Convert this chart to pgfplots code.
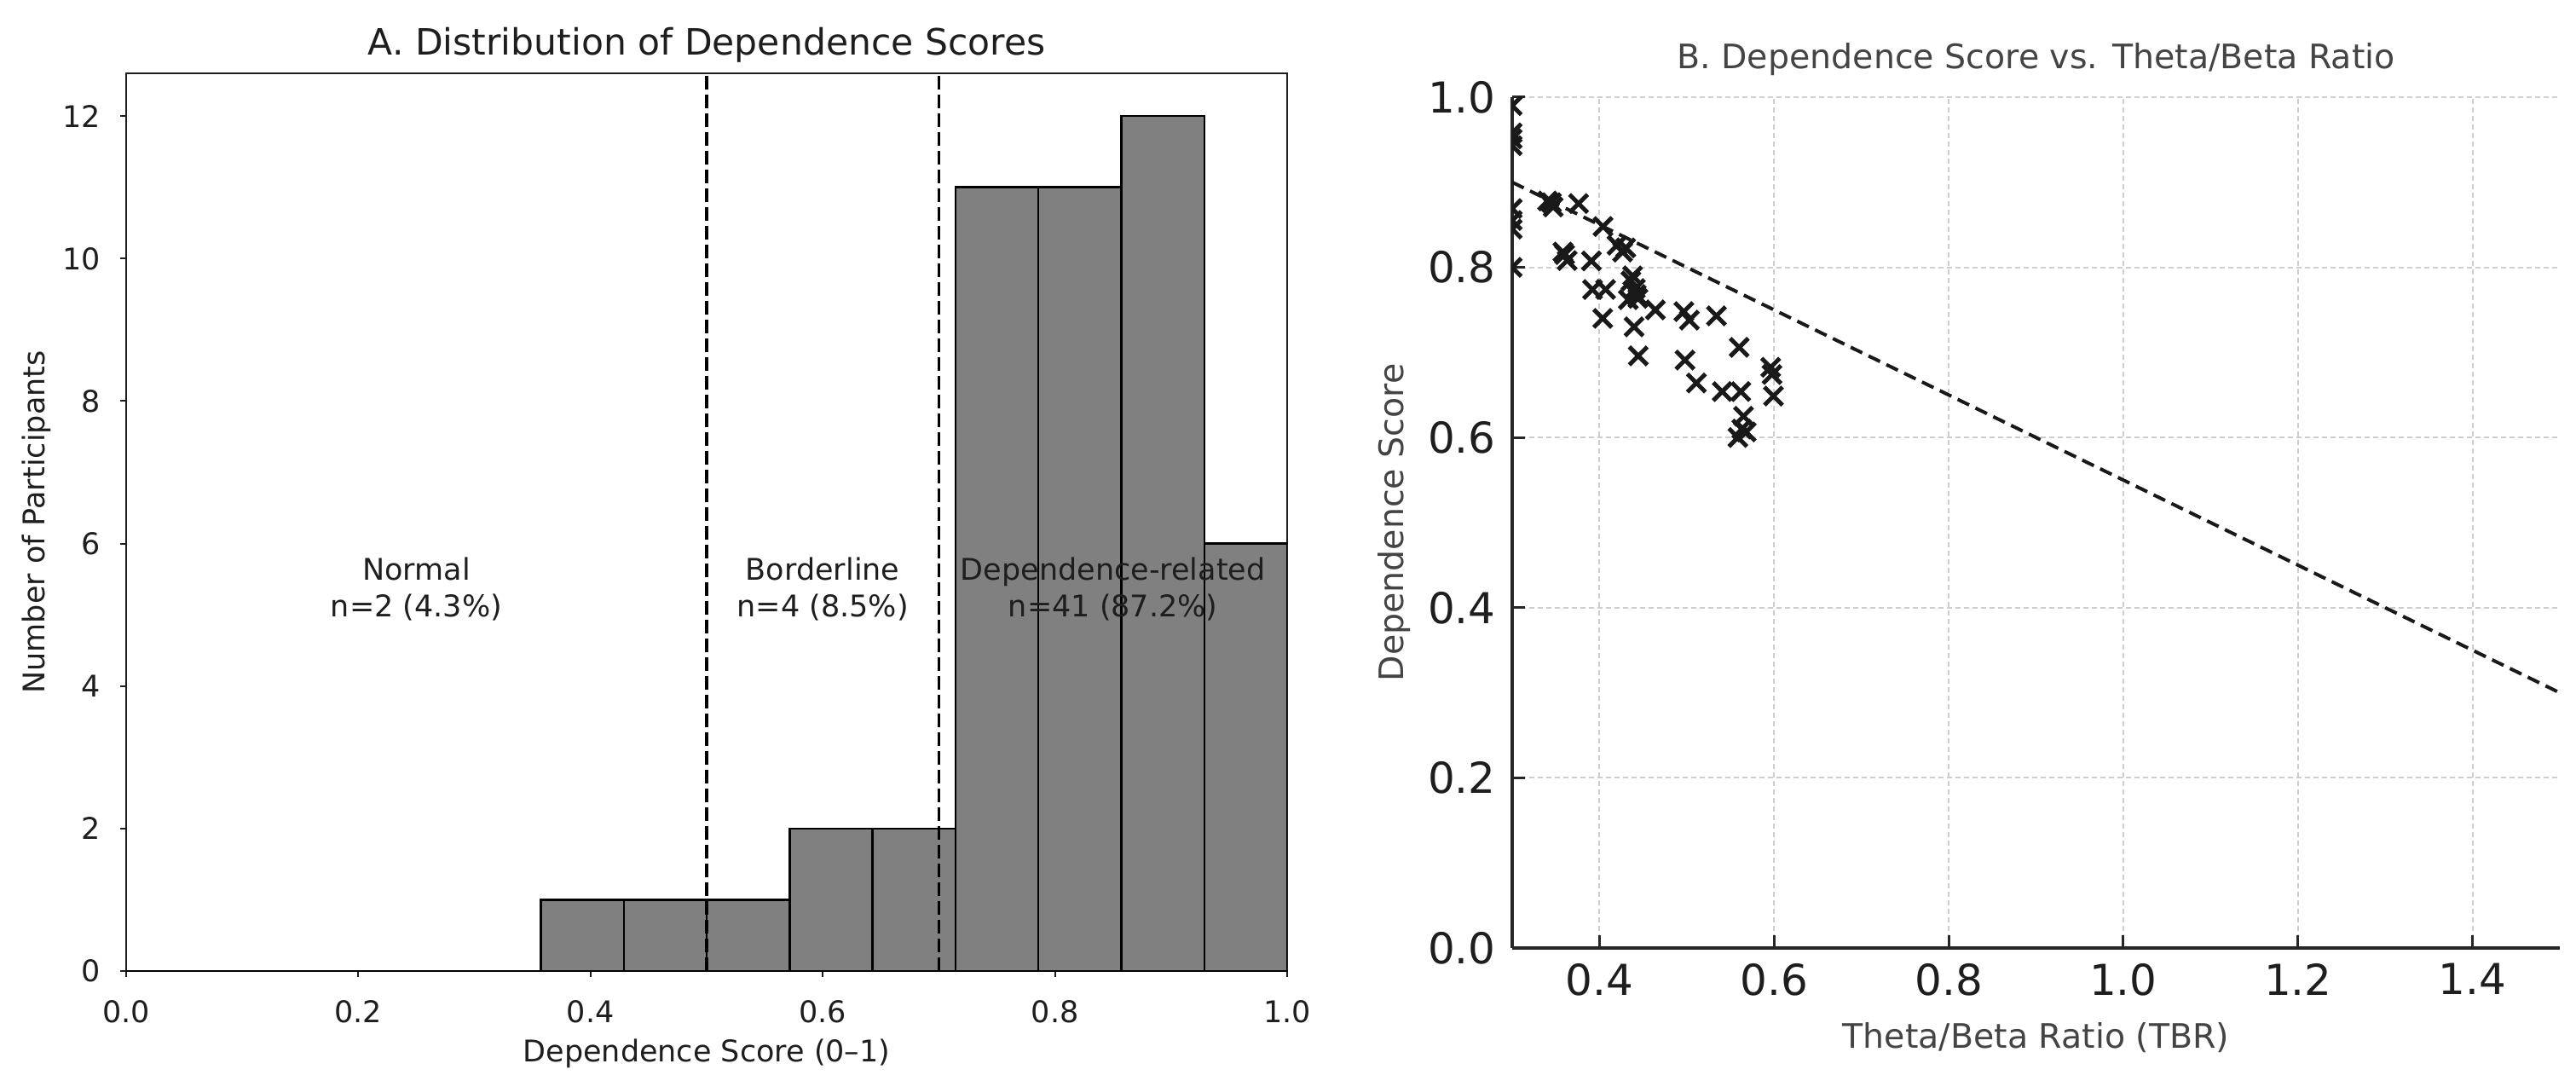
\documentclass[border=0pt]{standalone}
\usepackage{fontspec}
\setmainfont{DejaVu Sans}
\usepackage{pgfplots}
\pgfplotsset{compat=1.18}
\definecolor{bargray}{RGB}{128,128,128}
\definecolor{gridgray}{RGB}{205,205,205}
\definecolor{txtgray}{RGB}{68,68,68}
\definecolor{txtdark}{RGB}{30,30,30}

\pgfplotstableread{
x y
0.0000 0
0.0714 0
0.1429 0
0.2143 0
0.2857 0
0.3571 1
0.4286 1
0.5000 1
0.5714 2
0.6429 2
0.7143 11
0.7857 11
0.8571 12
0.9286 6
1.0000 6
}\histdata

\pgfplotstableread{
x y
0.300 0.990
0.300 0.958
0.300 0.951
0.300 0.943
0.300 0.869
0.300 0.855
0.300 0.845
0.300 0.800
0.3405 0.878
0.347 0.871
0.345 0.876
0.376 0.875
0.404 0.848
0.420 0.826
0.4265 0.818
0.430 0.823
0.358 0.818
0.360 0.815
0.363 0.808
0.3907 0.8075
0.392 0.774
0.407 0.774
0.436 0.784
0.438 0.790
0.441 0.775
0.442 0.768
0.433 0.762
0.444 0.7635
0.4037 0.740
0.464 0.750
0.4396 0.730
0.4966 0.748
0.503 0.738
0.534 0.743
0.4444 0.696
0.498 0.691
0.560 0.706
0.511 0.664
0.5406 0.654
0.5618 0.654
0.596 0.6825
0.5976 0.674
0.5993 0.6487
0.565 0.625
0.568 0.6065
0.5585 0.600
0.563 0.610
}\scatterdata

\begin{document}
\begin{tikzpicture}
% ---------------- Panel A ----------------
\begin{axis}[
  at={(59.2pt,51.2pt)}, anchor=south west,
  scale only axis, width=544.8pt, height=421.2pt,
  xmin=0, xmax=1, ymin=0, ymax=12.6,
  xtick={0,0.2,0.4,0.6,0.8,1},
  xticklabels={0.0,0.2,0.4,0.6,0.8,1.0},
  ytick={0,2,4,6,8,10,12},
  tick align=outside, tick pos=left,
  major tick length=2.8pt,
  every tick/.style={txtdark, line width=0.8pt},
  axis line style={txtdark, line width=0.8pt},
  /pgf/number format/assume math mode=true,
  tick label style={font=\fontsize{14}{17}\selectfont, text=txtdark},
  xticklabel style={anchor=north, inner sep=0pt, yshift=-11pt},
  yticklabel style={anchor=east, inner sep=0pt, xshift=-9pt},
  title={A. Distribution of Dependence Scores},
  every axis title/.style={at={(axis description cs:0.5,1.0201)}, anchor=base, font=\fontsize{17}{20}\selectfont, text=txtdark},
  xlabel={Dependence Score (0–1)},
  xlabel style={at={(axis description cs:0.5,-0.1016)}, anchor=base, font=\fontsize{14}{17}\selectfont, text=txtdark},
  ylabel={Number of Participants},
  ylabel style={at={(axis description cs:-0.0701,0.5)}, anchor=base, font=\fontsize{14}{17}\selectfont, text=txtdark},
]
\addplot[ybar interval, fill=bargray, draw=black, line width=1pt] table[x=x,y=y] {\histdata};
\addplot[black, line width=1.4pt, dash pattern=on 6.4pt off 2.4pt] coordinates {(0.5,0) (0.5,12.6)};
\addplot[black, line width=1.4pt, dash pattern=on 6.4pt off 2.4pt] coordinates {(0.7,0) (0.7,12.6)};
\node[anchor=base, font=\fontsize{14}{17}\selectfont, text=txtdark] at (axis cs:0.25,5.49) {Normal};
\node[anchor=base, font=\fontsize{14}{17}\selectfont, text=txtdark] at (axis cs:0.25,4.97) {n=2 (4.3\%)};
\node[anchor=base, font=\fontsize{14}{17}\selectfont, text=txtdark] at (axis cs:0.6,5.49) {Borderline};
\node[anchor=base, font=\fontsize{14}{17}\selectfont, text=txtdark] at (axis cs:0.6,4.97) {n=4 (8.5\%)};
\node[anchor=base, font=\fontsize{14}{17}\selectfont, text=txtdark] at (axis cs:0.85,5.49) {Dependence-related};
\node[anchor=base, font=\fontsize{14}{17}\selectfont, text=txtdark] at (axis cs:0.85,4.97) {n=41 (87.2\%)};
\end{axis}

% ---------------- Panel B ----------------
\begin{axis}[
  at={(709.6pt,62pt)}, anchor=south west,
  scale only axis, width=491.6pt, height=399.2pt,
  xmin=0.3, xmax=1.5, ymin=0, ymax=1,
  axis x line*=bottom, axis y line*=left,
  axis line style={black!85, line width=1.6pt},
  xtick={0.4,0.6,0.8,1.0,1.2,1.4},
  xticklabels={0.4,0.6,0.8,1.0,1.2,1.4},
  ytick={0,0.2,0.4,0.6,0.8,1.0},
  yticklabels={0.0,0.2,0.4,0.6,0.8,1.0},
  tick align=inside,
  major tick length=6pt,
  every tick/.style={black!85, line width=1.2pt},
  grid=major,
  major grid style={gridgray, line width=0.8pt, dash pattern=on 2.4pt off 1.6pt},
  /pgf/number format/assume math mode=true,
  tick label style={font=\fontsize{20}{24}\selectfont, text=txtdark},
  xticklabel style={anchor=north, inner sep=0pt, yshift=-7pt},
  yticklabel style={anchor=east, inner sep=0pt, xshift=-7.6pt},
  title={B. Dependence Score vs. Theta/Beta Ratio},
  every axis title/.style={at={(axis description cs:0.5,1.034)}, anchor=base, font=\fontsize{15.8}{19}\selectfont, text=txtgray},
  xlabel={Theta/Beta Ratio (TBR)},
  xlabel style={at={(axis description cs:0.5,-0.1182)}, anchor=base, font=\fontsize{15.8}{19}\selectfont, text=txtgray},
  ylabel={Dependence Score},
  ylabel style={at={(axis description cs:-0.1041,0.5)}, anchor=base, font=\fontsize{15.8}{19}\selectfont, text=txtgray},
  clip marker paths=true,
]
\addplot[only marks, mark=x, mark size=6pt, mark options={line width=2pt, black!90}] table[x=x,y=y] {\scatterdata};
\addplot[black!90, line width=1.6pt, dash pattern=on 6pt off 3.3pt] coordinates {(0.3,0.9) (1.5,0.3)};
\end{axis}

\pgfresetboundingbox
\useasboundingbox (0,0) rectangle (1208.8pt,506.8pt);
\end{tikzpicture}
\end{document}
